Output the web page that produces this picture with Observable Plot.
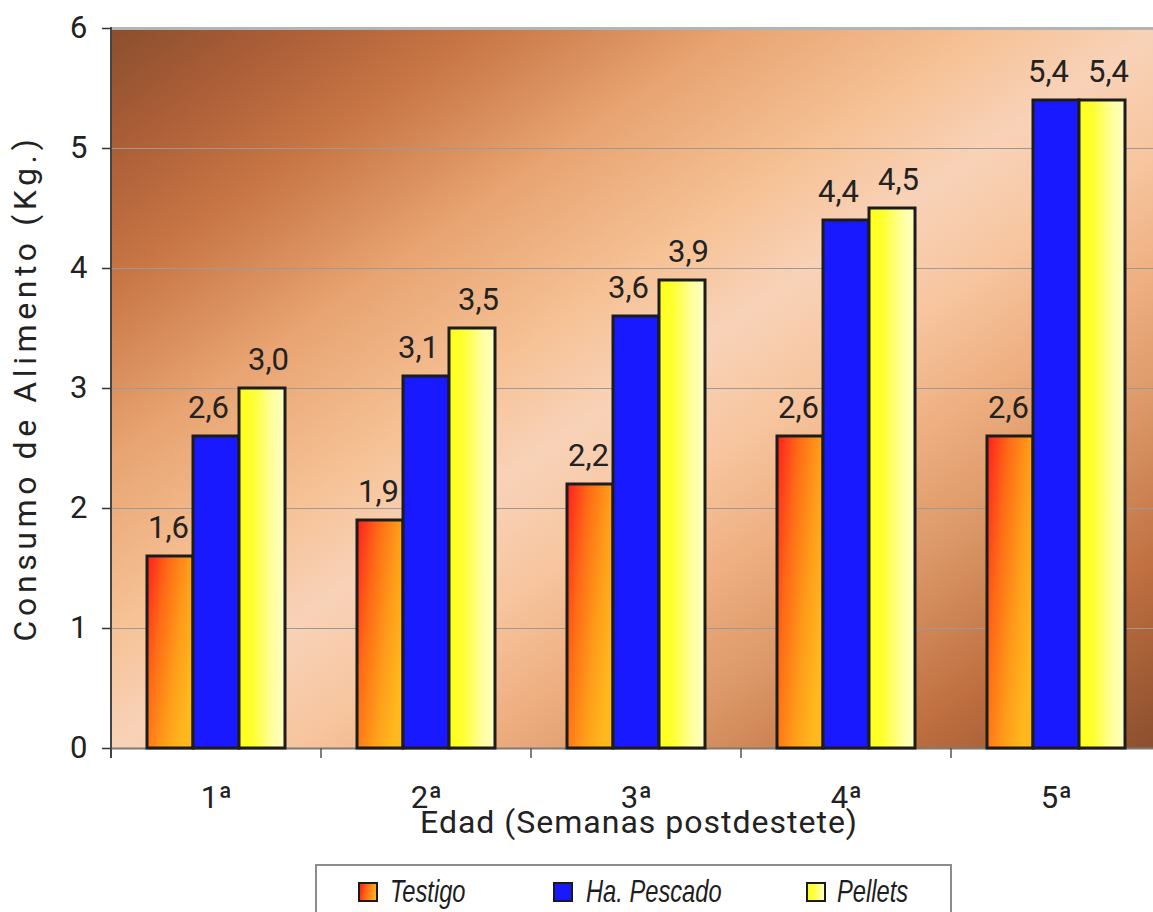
<!DOCTYPE html>
<html>
<head>
<meta charset="utf-8">
<script src="https://cdn.jsdelivr.net/npm/d3@7"></script>
<script src="https://cdn.jsdelivr.net/npm/@observablehq/plot@0.6"></script>
<style>
  html, body { margin: 0; padding: 0; background: #fff; overflow: hidden; }
  #wrap { position: relative; width: 1153px; height: 912px; overflow: hidden; }
  #chart { width: 1163px; }
  #chart svg { display: block; max-width: none !important; }
  .legend { position: absolute; left: 315px; top: 864px; width: 637px; height: 54px;
            border: 2px solid #8c8c8c; box-sizing: border-box; background: #fff; }
  .sw { position: absolute; top: 16px; width: 16px; height: 16px; border: 2px solid #1a1a1a; }
  .lab { position: absolute; top: 9px; font: italic 32px "Liberation Sans", Arial, sans-serif;
         line-height: 1; color: #1e1e1e; transform: scaleX(0.74); transform-origin: left center;
         white-space: nowrap; }
</style>
</head>
<body>
<div id="wrap">
  <div id="chart"></div>
  <div class="legend" id="legend"></div>
</div>
<script>
// Weekly feed consumption (kg) after weaning, by diet
const weeks = ["1ª", "2ª", "3ª", "4ª", "5ª"];
const series = ["Testigo", "Ha. Pescado", "Pellets"];
const testigo = [1.6, 1.9, 2.2, 2.6, 2.6];
const pescado = [2.6, 3.1, 3.6, 4.4, 5.4];
const pellets = [3.0, 3.5, 3.9, 4.5, 5.4];
const yTicks = [0, 1, 2, 3, 4, 5, 6];
const yTitle = "Consumo de Alimento (Kg.)";
const xTitle = "Edad (Semanas postdestete)";

const valuesBySeries = [testigo, pescado, pellets];
const rows = [];
weeks.forEach((w, i) => {
  series.forEach((s, j) => rows.push({week: w, serie: s, value: valuesBySeries[j][i]}));
});

const fmt = v => v.toFixed(1).replace(".", ",");
const font = "Roboto, 'Liberation Sans', sans-serif";

const W = 1163, H = 858, mL = 109, mT = 28, mB = 110;
// small horizontal nudge of the value labels for each series
const labelDx = [-2, -8, 6];

const chart = Plot.plot({
  width: W,
  height: H,
  marginLeft: mL,
  marginRight: 0,
  marginTop: mT,
  marginBottom: mB,
  style: {fontFamily: font, color: "#222", background: "transparent", overflow: "visible",
          maxWidth: "none", width: W + "px", height: H + "px"},
  fx: {domain: weeks, padding: 0, range: [mL, W]},
  x: {domain: series, paddingInner: 0, paddingOuter: 0.75, axis: null},
  y: {domain: [0, 6], range: [H - mB, mT]},
  color: {domain: series, range: ["url(#gTestigo)", "#1919ff", "url(#gPellets)"]},
  marks: [
    Plot.ruleY([1, 2, 3, 4, 5], {stroke: "#9a9a9a", strokeWidth: 1.2}),
    Plot.ruleY([6], {stroke: "#b4b4b4", strokeWidth: 3}),
    Plot.ruleY([0], {stroke: "#7a7a7a", strokeWidth: 2}),
    Plot.barY(rows, {fx: "week", x: "serie", y: "value", fill: "serie",
                     stroke: "#1c1c1c", strokeWidth: 3}),
    ...series.map((s, j) =>
      Plot.text(rows.filter(d => d.serie === s), {
        fx: "week", x: "serie", y: "value", text: d => fmt(d.value),
        lineAnchor: "bottom", dy: -19, dx: labelDx[j], fontSize: 31, fill: "#222",
        style: "letter-spacing:1.2px"
      })),
    Plot.axisY({ticks: yTicks, tickFormat: d => String(d), tickSize: 9, tickPadding: 15,
                fontSize: 31, stroke: "#333", strokeWidth: 1.5, label: null}),
    Plot.axisFx({anchor: "bottom", tickSize: 0, tickPadding: 37, fontSize: 31, label: null})
  ]
});

// Gradients for the plot background and the bar fills, then the plot-area background
const ns = "http://www.w3.org/2000/svg";
const fxScale = chart.scale("fx");
const yScale = chart.scale("y");
const areaLeft = fxScale.apply(weeks[0]);
const areaRight = fxScale.apply(weeks[weeks.length - 1]) + fxScale.bandwidth;
const areaTop = yScale.apply(6), areaBottom = yScale.apply(0);

const defs = document.createElementNS(ns, "defs");
defs.innerHTML = `
  <linearGradient id="bgGrad" x1="0" y1="0" x2="1" y2="1">
    <stop offset="0" stop-color="#8a4e2e"/>
    <stop offset="0.09" stop-color="#ad5f38"/>
    <stop offset="0.18" stop-color="#c87645"/>
    <stop offset="0.3" stop-color="#e8a472"/>
    <stop offset="0.42" stop-color="#f6c296"/>
    <stop offset="0.5" stop-color="#f8d2b8"/>
    <stop offset="0.58" stop-color="#f7c6a0"/>
    <stop offset="0.67" stop-color="#eeae80"/>
    <stop offset="0.76" stop-color="#da9666"/>
    <stop offset="0.87" stop-color="#bf6f40"/>
    <stop offset="1" stop-color="#8a4e2e"/>
  </linearGradient>
  <linearGradient id="gTestigo" x1="0" y1="0" x2="1" y2="0.6">
    <stop offset="0" stop-color="#ff1e1e"/>
    <stop offset="0.35" stop-color="#ff6a16"/>
    <stop offset="0.7" stop-color="#ff9c1a"/>
    <stop offset="1" stop-color="#ffb81e"/>
  </linearGradient>
  <linearGradient id="gPellets" x1="0" y1="0" x2="1" y2="0">
    <stop offset="0" stop-color="#ffff1a"/>
    <stop offset="0.3" stop-color="#ffff30"/>
    <stop offset="0.7" stop-color="#ffff9a"/>
    <stop offset="1" stop-color="#ffffc4"/>
  </linearGradient>`;
const bg = document.createElementNS(ns, "rect");
bg.setAttribute("x", areaLeft);
bg.setAttribute("y", areaTop);
bg.setAttribute("width", areaRight - areaLeft);
bg.setAttribute("height", areaBottom - areaTop);
bg.setAttribute("fill", "url(#bgGrad)");
const styleEl = chart.querySelector("style");
const anchorNode = styleEl ? styleEl.nextSibling : chart.firstChild;
chart.insertBefore(defs, anchorNode);
chart.insertBefore(bg, anchorNode);

// Category separators below the axis and the vertical axis line
const addLine = (x1, y1, x2, y2, stroke, w) => {
  const l = document.createElementNS(ns, "line");
  l.setAttribute("x1", x1); l.setAttribute("y1", y1);
  l.setAttribute("x2", x2); l.setAttribute("y2", y2);
  l.setAttribute("stroke", stroke); l.setAttribute("stroke-width", w);
  chart.appendChild(l);
};
weeks.slice(1).forEach(w => {
  const x = fxScale.apply(w);
  addLine(x, areaBottom, x, areaBottom + 10, "#555", 1.5);
});
addLine(areaLeft, areaTop - 1, areaLeft, areaBottom + 10, "#444", 2);

// Axis titles
const addText = (str, attrs) => {
  const t = document.createElementNS(ns, "text");
  for (const k in attrs) t.setAttribute(k, attrs[k]);
  t.textContent = str;
  chart.appendChild(t);
};
addText(yTitle, {
  transform: `translate(36,${(areaTop + areaBottom) / 2}) rotate(-90)`,
  "text-anchor": "middle", "font-size": 32, fill: "#222", style: "letter-spacing:4.6px",
  "font-family": font
});
addText(xTitle, {
  x: (areaLeft + areaRight) / 2 + 3, y: areaBottom + 85,
  "text-anchor": "middle", "font-size": 32, fill: "#222", style: "letter-spacing:1px",
  "font-family": font
});

document.getElementById("chart").appendChild(chart);

// Legend
const legend = document.getElementById("legend");
const swatchFill = [
  "linear-gradient(100deg, #ff1e1e 0%, #ff6a16 40%, #ffb81e 100%)",
  "#1919ff",
  "linear-gradient(90deg, #ffff1a 0%, #ffff40 35%, #ffffc4 100%)"
];
const swLeft = [41, 236, 489];
const labLeft = [73, 269, 520];
series.forEach((s, i) => {
  const sw = document.createElement("div");
  sw.className = "sw";
  sw.style.left = swLeft[i] + "px";
  sw.style.background = swatchFill[i];
  legend.appendChild(sw);
  const lab = document.createElement("div");
  lab.className = "lab";
  lab.style.left = labLeft[i] + "px";
  lab.textContent = s;
  legend.appendChild(lab);
});
</script>
</body>
</html>
